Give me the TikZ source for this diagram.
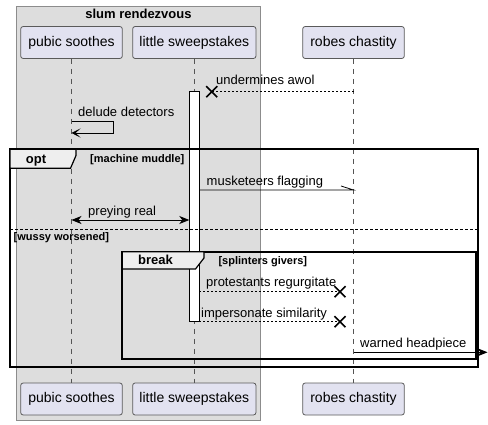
\documentclass[tikz,border=0pt]{standalone}
\usepackage{fontspec}
\setmainfont{Liberation Sans}
\usetikzlibrary{arrows.meta}
\definecolor{boxgray}{HTML}{DDDDDD}
\definecolor{boxline}{HTML}{8C8C8C}
\definecolor{partfill}{HTML}{E2E2F0}
\definecolor{partline}{HTML}{5A5A5A}
\definecolor{lifeline}{HTML}{555555}
\definecolor{tabfill}{HTML}{EEEEEE}
\tikzset{
  part/.style={draw=partline, fill=partfill, line width=0.8pt, rounded corners=2.5pt,
    minimum width=101.6pt, minimum height=32pt, inner sep=0pt,
    font=\fontsize{14}{16}\selectfont},
  partwide/.style={part, minimum width=123.3pt},
  life/.style={draw=lifeline, line width=0.8pt, dash pattern=on 5pt off 5pt},
  msg/.style={draw=black, line width=0.8pt},
  ret/.style={draw=black, line width=0.8pt, dash pattern=on 2pt off 2pt},
  lbl/.style={anchor=base west, inner sep=0pt, font=\fontsize{13}{15}\selectfont},
  blbl/.style={anchor=base west, inner sep=0pt, font=\bfseries\fontsize{11}{13}\selectfont},
  tablbl/.style={anchor=base, inner sep=0pt, font=\bfseries\fontsize{13}{15}\selectfont},
  frm/.style={draw=black, line width=1.8pt},
  xmark/.style={draw=black, line width=1.6pt},
  tip/.style={-{Stealth[length=10pt,width=8pt,inset=3pt]}},
}
\begin{document}
\begin{tikzpicture}[x=1pt,y=-1pt]
\useasboundingbox (0,0) rectangle (488,425);
% group box
\draw[boxline, fill=boxgray, line width=0.8pt] (16.3,6) rectangle (260.6,420.5);
\node[anchor=base, inner sep=0pt, font=\bfseries\fontsize{13}{15}\selectfont] (title) at (138.5,18.5) {slum rendezvous};
% participants
\node[part] (p1t) at (71.5,42.5) {pubic soothes};
\node[partwide] (p2t) at (194.3,42.5) {little sweepstakes};
\node[part] (p3t) at (353.5,42.5) {robes chastity};
\node[part] (p1b) at (71.5,399) {pubic soothes};
\node[partwide] (p2b) at (194.3,399) {little sweepstakes};
\node[part] (p3b) at (353.5,399) {robes chastity};
\draw[life] (p1t) -- (p1b);
\draw[life] (p2t) -- (p2b);
\draw[life] (p3t) -- (p3b);
% activation
\node[draw=black, fill=white, line width=0.8pt, minimum width=10pt, minimum height=230pt, inner sep=0pt] (act) at (194.3,206.7) {};
% opt frame
\draw[frm] (10,149.3) rectangle (478.3,367.3);
\draw[black, line width=1.2pt, fill=tabfill] (10,149.3) -- (76,149.3) -- (76,155.5) -- (70.5,168.3) -- (10,168.3) -- cycle;
\node[tablbl] (optl) at (36,163.3) {opt};
\node[blbl] (optc) at (90,162.3) {[machine muddle]};
\coordinate (sepl) at (10,229.3);
\coordinate (sepr) at (478.3,229.3);
\draw[black, line width=0.8pt, dash pattern=on 3pt off 2pt] (sepl) -- (sepr);
\node[blbl] (wus) at (13.5,241) {[wussy worsened]};
% break frame
\draw[frm] (122.3,251.7) rectangle (475.8,359.3);
\draw[black, line width=1.2pt, fill=tabfill] (122.3,251.7) -- (204,251.7) -- (204,258) -- (195.5,269) -- (122.3,269) -- cycle;
\node[tablbl] (brl) at (155.5,265) {break};
\node[blbl] (brc) at (218.3,265) {[splinters givers]};
% message endpoints
\coordinate (m1a) at (353.5,91.7);
\coordinate (m1x) at (211.7,91.7);
\coordinate (m2a) at (71.5,121.7);
\coordinate (m2b) at (113,121.7);
\coordinate (m2c) at (113,133);
\coordinate (m2d) at (71.5,133);
\coordinate (m3a) at (199.3,190);
\coordinate (m3b) at (353.5,190);
\coordinate (m3h) at (341,186);
\coordinate (m4a) at (71.5,220);
\coordinate (m4b) at (189.3,220);
\coordinate (m5a) at (199.3,291.7);
\coordinate (m5x) at (340,291.7);
\coordinate (m6a) at (199.3,321.7);
\coordinate (m6x) at (340,321.7);
\coordinate (m7a) at (353.5,352.3);
\coordinate (m7b) at (487.5,352.3);
% messages
\draw[ret] (m1a) -- (m1x);
\draw[xmark] ([shift={(-5.5,-5.5)}]m1x) -- ([shift={(5.5,5.5)}]m1x) ([shift={(-5.5,5.5)}]m1x) -- ([shift={(5.5,-5.5)}]m1x);
\node[lbl] (t1) at (216,85) {undermines awol};
\draw[msg, -{Stealth[length=9pt,width=9pt,inset=5pt]}] (m2a) -- (m2b) -- (m2c) -- (m2d);
\node[lbl] (t2) at (78,117) {delude detectors};
\draw[msg] (m3a) -- (m3b) -- (m3h);
\node[lbl] (t3) at (206.5,186) {musketeers flagging};
\draw[msg, {Stealth[length=10pt,width=8pt,inset=3pt]}-{Stealth[length=10pt,width=8pt,inset=3pt]}] (m4a) -- (m4b);
\node[lbl] (t4) at (88,215.3) {preying real};
\draw[ret] (m5a) -- (m5x);
\draw[xmark] ([shift={(-5.5,-5.5)}]m5x) -- ([shift={(5.5,5.5)}]m5x) ([shift={(-5.5,5.5)}]m5x) -- ([shift={(5.5,-5.5)}]m5x);
\node[lbl] (t5) at (206,286.7) {protestants regurgitate};
\draw[ret] (m6a) -- (m6x);
\draw[xmark] ([shift={(-5.5,-5.5)}]m6x) -- ([shift={(5.5,5.5)}]m6x) ([shift={(-5.5,5.5)}]m6x) -- ([shift={(5.5,-5.5)}]m6x);
\node[lbl] (t6) at (201,317.3) {impersonate similarity};
\draw[msg, tip] (m7a) -- (m7b);
\node[lbl] (t7) at (360,347.3) {warned headpiece};
\end{tikzpicture}
\end{document}
